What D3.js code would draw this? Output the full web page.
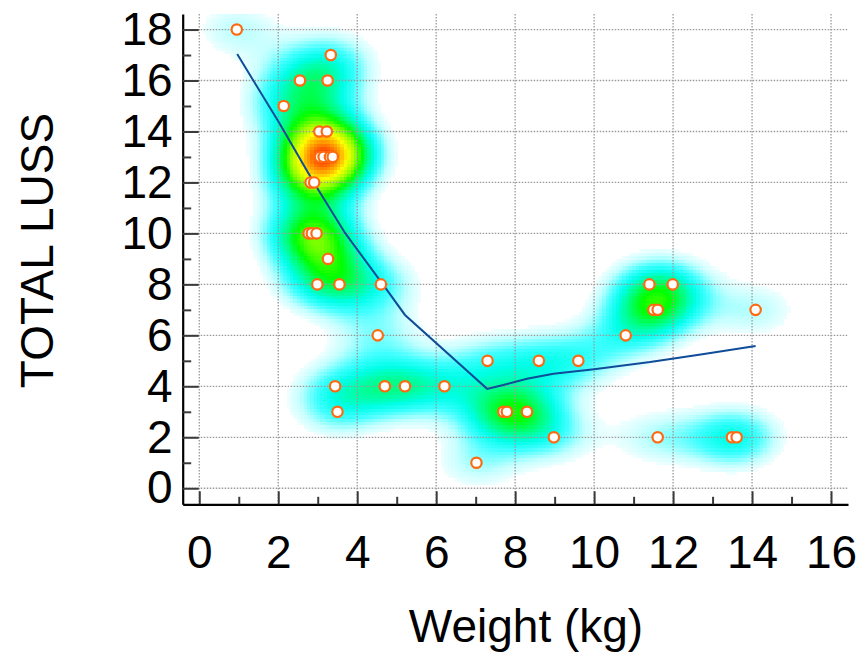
<!DOCTYPE html>
<html>
<head>
<meta charset="utf-8">
<script src="https://cdn.jsdelivr.net/npm/d3@7"></script>
<style>
  body { margin: 0; background: #fff; }
  text { font-family: "Liberation Sans", Arial, sans-serif; }
</style>
</head>
<body>
<svg id="chart" width="860" height="654"></svg>
<script>
// observed points
var weight = [0.95, 3.33, 2.55, 3.25, 2.14, 3.04, 3.23, 3.06, 3.15, 3.31, 3.38,
  2.82, 2.91, 2.77, 2.85, 2.97, 3.26, 2.99, 3.55, 4.60, 4.52,
  3.44, 3.50, 4.70, 5.21, 6.21, 7.30, 8.60, 9.60, 7.70, 7.79, 8.30,
  8.98, 7.02, 10.80, 11.40, 11.99, 11.50, 11.61, 14.09, 11.61, 13.49, 13.61];
var totalLuss = [18, 17, 16, 16, 15, 14, 14, 13, 13, 13, 13,
  12, 12, 10, 10, 10, 9, 8, 8, 8, 6,
  4, 3, 4, 4, 4, 5, 5, 5, 3, 3, 3,
  2, 1, 6, 8, 8, 7, 7, 7, 2, 2, 2];

// smoothed fit line
var fitX = [0.96, 2.0, 2.9, 3.7, 4.65, 5.21, 7.29, 7.7, 8.3, 8.97, 10.0, 11.42, 12.7, 14.09];
var fitY = [17.04, 14.4, 12.0, 10.0, 8.0, 6.8, 3.9, 4.05, 4.3, 4.49, 4.67, 4.95, 5.25, 5.58];

var xTicks = [0, 2, 4, 6, 8, 10, 12, 14, 16];
var yTicks = [0, 2, 4, 6, 8, 10, 12, 14, 16, 18];
var xMinor = [1, 3, 5, 7, 9, 11, 13, 15];
var yMinor = [1, 3, 5, 7, 9, 11, 13, 15, 17];

var svg = d3.select("#chart");

var x = d3.scaleLinear().domain([-0.42, 16.43]).range([182.7, 848]);
var y = d3.scaleLinear().domain([-0.63, 18.61]).range([504.3, 14]);

// density heat map (gaussian kernel sum on a grid)
var bwX = 0.86, bwY = 0.9;
var cellX = 0.085, cellY = 0.13;
var densStops = [0.62, 1.0, 1.6, 2.1, 2.8, 3.3, 4.0, 4.8, 5.6, 6.3];
var densColors = ["#f0ffff", "#c4ffff", "#40ffff", "#00ffe8", "#00ff70", "#00ff00",
  "#90ff00", "#ffff00", "#ff9000", "#ff1800"];
var heat = d3.scaleLinear().domain(densStops).range(densColors).clamp(true);

var cells = [];
for (var gx = x.domain()[0]; gx < x.domain()[1]; gx += cellX) {
  for (var gy = y.domain()[0]; gy < y.domain()[1]; gy += cellY) {
    var cx = gx + cellX / 2, cy = gy + cellY / 2, d = 0;
    for (var i = 0; i < weight.length; i++) {
      var ddx = (cx - weight[i]) / bwX, ddy = (cy - totalLuss[i]) / bwY;
      d += Math.exp(-0.5 * (ddx * ddx + ddy * ddy));
    }
    if (d >= densStops[0]) cells.push({x0: gx, y0: gy, d: d});
  }
}

svg.append("clipPath").attr("id", "plotclip").append("rect")
  .attr("x", x.range()[0]).attr("y", y.range()[1])
  .attr("width", x.range()[1] - x.range()[0])
  .attr("height", y.range()[0] - y.range()[1]);

svg.append("g").attr("clip-path", "url(#plotclip)")
  .attr("shape-rendering", "crispEdges")
  .selectAll("rect").data(cells).join("rect")
  .attr("x", c => x(c.x0))
  .attr("y", c => y(c.y0 + cellY))
  .attr("width", x(cellX) - x(0) + 0.5)
  .attr("height", y(0) - y(cellY) + 0.5)
  .attr("fill", c => heat(c.d));

// dotted grid
var grid = svg.append("g").attr("stroke", "#9a9a9a").attr("stroke-width", 1.3)
  .attr("stroke-dasharray", "1.5,1.5");
grid.selectAll(".vg").data(xTicks).join("line").attr("class", "vg")
  .attr("x1", d => x(d)).attr("x2", d => x(d))
  .attr("y1", y.range()[1]).attr("y2", y.range()[0]);
grid.selectAll(".hg").data(yTicks).join("line").attr("class", "hg")
  .attr("x1", x.range()[0]).attr("x2", x.range()[1])
  .attr("y1", d => y(d)).attr("y2", d => y(d));

// fit line
var line = d3.line().x(d => x(d[0])).y(d => y(d[1]));
svg.append("path")
  .datum(d3.zip(fitX, fitY))
  .attr("d", line)
  .attr("fill", "none")
  .attr("stroke", "#0f4c99")
  .attr("stroke-width", 2);

// points
svg.append("g").selectAll("circle").data(d3.zip(weight, totalLuss)).join("circle")
  .attr("cx", d => x(d[0]))
  .attr("cy", d => y(d[1]))
  .attr("r", 5.2)
  .attr("fill", "#fff")
  .attr("stroke", "#ff6a10")
  .attr("stroke-width", 2.2);

// axes
var yAxis = svg.append("g").attr("transform", "translate(" + x.range()[0] + ",0)");
yAxis.call(d3.axisLeft(y).tickValues(yTicks).tickSize(-16).tickSizeOuter(0).tickPadding(10));
yAxis.append("g").call(d3.axisLeft(y).tickValues(yMinor).tickSize(-8.5).tickSizeOuter(0).tickFormat(""))
  .select(".domain").remove();

var xAxis = svg.append("g").attr("transform", "translate(0," + y.range()[0] + ")");
xAxis.call(d3.axisBottom(x).tickValues(xTicks).tickSize(-13).tickSizeOuter(0).tickPadding(31));
xAxis.append("g").call(d3.axisBottom(x).tickValues(xMinor).tickSize(-7.5).tickSizeOuter(0).tickFormat(""))
  .select(".domain").remove();

svg.selectAll(".tick line").attr("stroke", "#3a3a3a").attr("stroke-width", 2);
svg.selectAll(".domain").attr("stroke", "#000").attr("stroke-width", 2.2);
svg.selectAll(".tick text").attr("fill", "#000").style("font-size", "46px")
  .style("font-family", "'Liberation Sans', Arial, sans-serif");

// titles
svg.append("text")
  .attr("x", 526).attr("y", 641.5)
  .attr("text-anchor", "middle")
  .style("font-size", "46px")
  .text("Weight (kg)");

svg.append("text")
  .attr("transform", "translate(53,250.5) rotate(-90)")
  .attr("text-anchor", "middle")
  .style("font-size", "46px")
  .text("TOTAL LUSS");
</script>
</body>
</html>
